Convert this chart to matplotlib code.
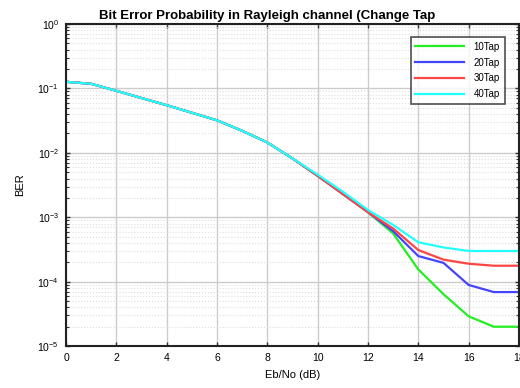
import matplotlib
matplotlib.use("Agg")
import matplotlib.pyplot as plt
import numpy as np
from matplotlib.ticker import LogLocator, NullFormatter

plt.rcParams['font.family'] = ['Liberation Sans', 'DejaVu Sans']

ebno = list(range(0, 19))
common = [0.127, 0.118, 0.092, 0.071, 0.055, 0.042, 0.032, 0.022, 0.0145,
          0.0082, 0.0044, 0.0023, 0.0012]
ber_10 = common + [5.6e-4, 1.55e-4, 6.4e-5, 2.9e-5, 2.0e-5, 2.0e-5]
ber_20 = common + [6.1e-4, 2.5e-4, 1.96e-4, 8.9e-5, 6.9e-5, 6.9e-5]
ber_30 = common + [6.7e-4, 3.1e-4, 2.2e-4, 1.9e-4, 1.77e-4, 1.77e-4]
ber_40 = common[:10] + [0.0046, 0.0025, 0.0013, 7.6e-4, 4.1e-4, 3.4e-4, 3.0e-4, 3.0e-4, 3.0e-4]
labels = ['10Tap', '20Tap', '30Tap', '40Tap']
colors = ['#22ee22', '#4444ff', '#ff4444', '#22ffff']

fig = plt.figure(figsize=(5.2, 3.88), dpi=100)
ax = fig.add_axes([0.127, 0.108, 0.871, 0.83])

for y, lab, c in zip([ber_10, ber_20, ber_30, ber_40], labels, colors):
    ax.semilogy(ebno, y, color=c, lw=1.6, label=lab)

ax.set_xlim(0, 18)
ax.set_ylim(1e-5, 1)
ax.set_xticks(range(0, 19, 2))
ax.yaxis.set_major_locator(LogLocator(base=10, numticks=10))
ax.yaxis.set_minor_locator(LogLocator(base=10, subs=np.arange(2, 10), numticks=10))
ax.yaxis.set_minor_formatter(NullFormatter())

ax.grid(True, which='major', color='#cccccc', lw=1.0, ls='-')
ax.grid(True, which='minor', axis='y', color='#dddddd', lw=0.8, ls=':')
ax.tick_params(which='both', direction='in', top=True, right=True, labelsize=7.5, color='#333333')
ax.tick_params(which='major', length=3, width=1, pad=5)
ax.tick_params(which='minor', length=2, width=0.8)
for s in ax.spines.values():
    s.set_linewidth(1.5)
    s.set_color('#222222')

ax.set_title('Bit Error Probability in Rayleigh channel (Change Tap', fontsize=9.5,
             fontweight='bold', pad=4, x=0.445)
ax.set_xlabel('Eb/No (dB)', fontsize=8, labelpad=5)
ax.set_ylabel('BER', fontsize=8, labelpad=9)

leg = ax.legend(loc='upper right', fontsize=7, frameon=True, fancybox=False,
                edgecolor='#222222', handlelength=5.0, handletextpad=1.0,
                borderpad=0.5, labelspacing=0.6, borderaxespad=0,
                bbox_to_anchor=(0.969, 0.96))
leg.get_frame().set_linewidth(1.2)

fig.savefig('out.png', dpi=100)
